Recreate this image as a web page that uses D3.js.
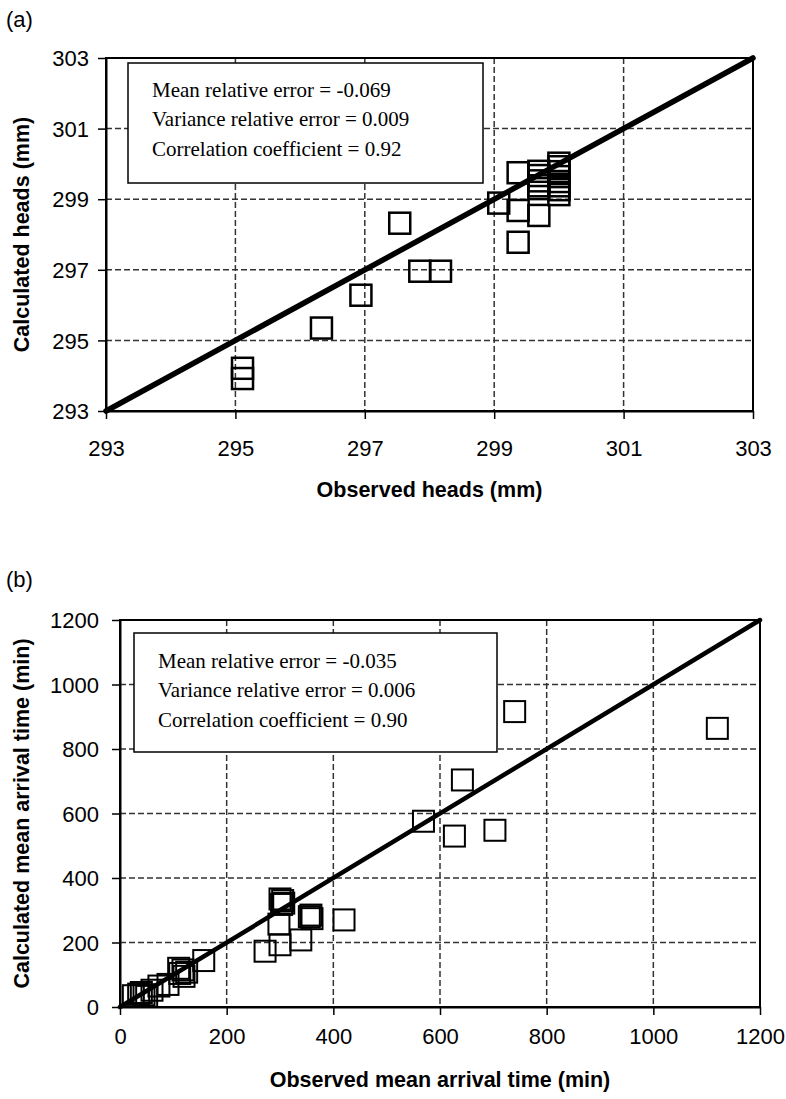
<!DOCTYPE html>
<html>
<head>
<meta charset="utf-8">
<script src="https://cdn.jsdelivr.net/npm/d3@7"></script>
<style>
  html, body { margin: 0; padding: 0; background: #fff; }
  svg { display: block; }
  .tick text { font-family: "Liberation Sans", Arial, sans-serif; font-size: 22px; fill: #000; }
  .axis-title { font-family: "Liberation Sans", Arial, sans-serif; font-size: 21.5px; font-weight: bold; }
  .panel-label { font-family: "Liberation Sans", Arial, sans-serif; font-size: 22px; }
  .stats text { font-family: "Liberation Serif", "Times New Roman", serif; font-size: 21px; }
</style>
</head>
<body>
<div id="chart"></div>
<script>
// ---- panel (a): hydraulic heads (mm) ----
const headsObserved = [
    295.11, 295.11, 296.33, 296.94, 297.85, 298.17, 297.54, 299.07,
    299.37, 299.37, 299.37, 299.69,
    299.69, 299.69, 299.69, 299.69, 299.69,
    300.0, 300.0, 300.0, 300.0, 300.0, 300.0, 300.0, 300.0
];
const headsCalculated = [
    294.21, 293.92, 295.35, 296.28, 296.96, 296.96, 298.32, 298.89,
    299.75, 298.68, 297.78, 298.54,
    299.79, 299.67, 299.52, 299.38, 299.30,
    300.02, 299.92, 299.78, 299.64, 299.50, 299.38, 299.27, 299.13
];
const headsTicks = [293, 295, 297, 299, 301, 303];
const headsStats = [
    'Mean relative error = -0.069',
    'Variance relative error = 0.009',
    'Correlation coefficient = 0.92'
];

// ---- panel (b): mean arrival time (min) ----
const arrivalObserved = [
    25, 35, 45, 50, 40, 60, 73, 90, 110, 118, 112, 125, 120, 157,
    272, 300, 298, 339, 300, 305, 307, 303, 355, 360, 358, 420,
    569, 627, 642, 703, 740, 1120
];
const arrivalCalculated = [
    35, 40, 38, 33, 45, 52, 65, 70, 120, 115, 104, 108, 95, 144,
    173, 193, 257, 208, 335, 330, 322, 318, 280, 274, 285, 270,
    576, 530, 704, 548, 916, 864
];
const arrivalTicks = [0, 200, 400, 600, 800, 1000, 1200];
const arrivalStats = [
    'Mean relative error = -0.035',
    'Variance relative error = 0.006',
    'Correlation coefficient = 0.90'
];

const svg = d3.select('#chart').append('svg')
    .attr('width', 786)
    .attr('height', 1099);

/**
 * Draw one observed-vs-calculated scatter panel with its 1:1 line.
 */
function drawPanel(opts) {
    const { box, domain, ticks, xs, ys } = opts;
    const x = d3.scaleLinear().domain(domain).range([box.left, box.right]);
    const y = d3.scaleLinear().domain(domain).range([box.bottom, box.top]);
    const g = svg.append('g');

    // dashed grid (inner ticks only)
    const inner = ticks.slice(1, -1);
    g.selectAll('.vgrid').data(inner).join('line')
        .attr('x1', d => x(d)).attr('x2', d => x(d))
        .attr('y1', box.top).attr('y2', box.bottom)
        .attr('stroke', '#333').attr('stroke-width', 1.5)
        .attr('stroke-dasharray', '6,3');
    g.selectAll('.hgrid').data(inner).join('line')
        .attr('x1', box.left).attr('x2', box.right)
        .attr('y1', d => y(d)).attr('y2', d => y(d))
        .attr('stroke', '#333').attr('stroke-width', 1.5)
        .attr('stroke-dasharray', '6,3');

    // stats box
    const stats = g.append('g').attr('class', 'stats');
    stats.append('rect')
        .attr('x', opts.statsBox.x).attr('y', opts.statsBox.y)
        .attr('width', opts.statsBox.w).attr('height', opts.statsBox.h)
        .attr('fill', '#fff').attr('stroke', '#000').attr('stroke-width', 1.5);
    stats.selectAll('text').data(opts.stats).join('text')
        .attr('x', opts.statsBox.textX)
        .attr('y', (d, i) => opts.statsBox.firstBaseline + i * 29.3)
        .text(d => d);

    // markers
    const half = opts.markerSize / 2;
    g.selectAll('.pt').data(xs.map((v, i) => [v, ys[i]])).join('rect')
        .attr('x', d => x(d[0]) - half)
        .attr('y', d => y(d[1]) - half)
        .attr('width', opts.markerSize).attr('height', opts.markerSize)
        .attr('fill', 'none').attr('stroke', '#000')
        .attr('stroke-width', opts.markerStroke);

    // 1:1 line
    g.append('line')
        .attr('x1', x(domain[0])).attr('y1', y(domain[0]))
        .attr('x2', x(domain[1])).attr('y2', y(domain[1]))
        .attr('stroke', '#000').attr('stroke-width', opts.lineWidth)
        .attr('stroke-linecap', 'round');

    // frame
    g.append('rect')
        .attr('x', box.left).attr('y', box.top)
        .attr('width', box.right - box.left).attr('height', box.bottom - box.top)
        .attr('fill', 'none').attr('stroke', '#000').attr('stroke-width', 2);

    // axes
    const fmt = d3.format('d');
    const xAxis = g.append('g')
        .attr('transform', `translate(0,${box.bottom})`)
        .call(d3.axisBottom(x).tickValues(ticks).tickFormat(fmt)
            .tickSize(8).tickSizeOuter(0));
    xAxis.selectAll('.tick text').attr('y', opts.xLabelOffset).attr('dy', null);

    const yAxis = g.append('g')
        .attr('transform', `translate(${box.left},0)`)
        .call(d3.axisLeft(y).tickValues(ticks).tickFormat(fmt)
            .tickSize(8).tickSizeOuter(0).tickPadding(opts.yPadding));
    yAxis.selectAll('.tick text').attr('dy', '0.35em');
    g.selectAll('.domain').attr('stroke-width', 2);
    g.selectAll('.tick line').attr('stroke-width', 1.5);

    // titles
    g.append('text').attr('class', 'axis-title')
        .attr('x', (box.left + box.right) / 2).attr('y', opts.xTitleY)
        .attr('text-anchor', 'middle').text(opts.xTitle);
    g.append('text').attr('class', 'axis-title')
        .attr('transform', `translate(29,${(box.top + box.bottom) / 2}) rotate(-90)`)
        .attr('text-anchor', 'middle').text(opts.yTitle);
    g.append('text').attr('class', 'panel-label')
        .attr('x', 6).attr('y', opts.labelY).text(opts.label);
}

drawPanel({
    box: { left: 106, top: 58, right: 753, bottom: 411 },
    domain: [293, 303],
    ticks: headsTicks,
    xs: headsObserved,
    ys: headsCalculated,
    stats: headsStats,
    statsBox: { x: 128, y: 63, w: 355, h: 120, textX: 152, firstBaseline: 97 },
    markerSize: 21,
    markerStroke: 2.5,
    lineWidth: 5.5,
    xLabelOffset: 45,
    yPadding: 9,
    xTitle: 'Observed heads (mm)',
    xTitleY: 497,
    yTitle: 'Calculated heads (mm)',
    label: '(a)',
    labelY: 27
});

drawPanel({
    box: { left: 120, top: 620, right: 760, bottom: 1007 },
    domain: [0, 1200],
    ticks: arrivalTicks,
    xs: arrivalObserved,
    ys: arrivalCalculated,
    stats: arrivalStats,
    statsBox: { x: 134, y: 633, w: 363, h: 119, textX: 158, firstBaseline: 668 },
    markerSize: 21,
    markerStroke: 2,
    lineWidth: 4.5,
    xLabelOffset: 37,
    yPadding: 13,
    xTitle: 'Observed mean arrival time (min)',
    xTitleY: 1087,
    yTitle: 'Calculated mean arrival time (min)',
    label: '(b)',
    labelY: 587
});
</script>
</body>
</html>
